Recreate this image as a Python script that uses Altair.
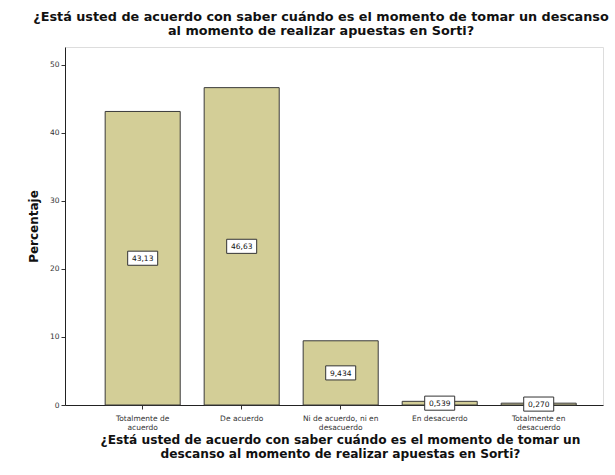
import altair as alt
import pandas as pd

categories = ["Totalmente de\nacuerdo", "De acuerdo", "Ni de acuerdo, ni en\ndesacuerdo",
              "En desacuerdo", "Totalmente en\ndesacuerdo"]
values = [43.13, 46.63, 9.434, 0.539, 0.270]
labels = ["43,13", "46,63", "9,434", "0,539", "0,270"]
y_ticks = [0, 10, 20, 30, 40, 50]

df = pd.DataFrame({"cat": categories, "val": values, "lab": labels})

FONT = "DejaVu Sans"
question = "¿Está usted de acuerdo con saber cuándo es el momento de tomar un descanso"

x_enc = alt.X("cat:N", sort=categories,
              scale=alt.Scale(paddingInner=0.242, paddingOuter=0.338, align=0.6),
              axis=alt.Axis(title=["¿Está usted de acuerdo con saber cuándo es el momento de tomar un",
                                   "descanso al momento de realizar apuestas en Sorti?"],
                            labelAngle=0, labelFontSize=7.5, labelColor="#333333", labelFont=FONT,
                            labelExpr="split(datum.label, '\\n')", labelLineHeight=9,
                            labelPadding=5, tickSize=4, tickColor="#333333",
                            domainColor="#222222", titleFont=FONT, titleFontSize=12.2,
                            titleFontWeight="bold", titleColor="#111111", titlePadding=3,
                            titleLineHeight=14, titleX=275))

base = alt.Chart(df)

bars = base.mark_bar(fill="#D3CE97", stroke="#3a3a3a", strokeWidth=1).encode(
    x=x_enc,
    y=alt.Y("val:Q", scale=alt.Scale(domain=[0, 52.6], nice=False),
            axis=alt.Axis(title="Percentaje", values=y_ticks, grid=False, labelFontSize=7.5,
                          labelColor="#333333", labelFont=FONT, tickSize=4, tickColor="#333333",
                          domainColor="#222222", titleFont=FONT, titleFontSize=12,
                          titleFontWeight="bold", titleColor="#111111", titlePadding=9)),
)

boxes = base.transform_calculate(mid="datum.val / 2").mark_point(
    shape="M-1,-0.47L1,-0.47L1,0.47L-1,0.47Z", size=900, filled=True, fill="white",
    stroke="#333333", strokeWidth=1, opacity=1,
).encode(x=alt.X("cat:N", sort=categories), y="mid:Q")

texts = base.transform_calculate(mid="datum.val / 2").mark_text(
    fontSize=7.5, font=FONT, color="#111111", baseline="middle", dy=1
).encode(x=alt.X("cat:N", sort=categories), y="mid:Q", text="lab:N")

chart = (bars + boxes + texts).properties(
    width=538, height=358,
    autosize=alt.AutoSizeParams(type="none"),
    padding={"left": 65, "top": 47, "right": 12, "bottom": 70},
    title=alt.TitleParams([question, "al momento de realizar apuestas en Sorti?"],
                          font=FONT, fontSize=12.8, fontWeight="bold", color="#111111",
                          anchor="middle", dx=-13, offset=9, lineHeight=14),
).configure_view(fill="#F0F0F0", stroke="#bdbdbd", strokeWidth=1
).configure(background="white")

chart.save("out.html", embed_options={"renderer": "svg", "actions": False})
